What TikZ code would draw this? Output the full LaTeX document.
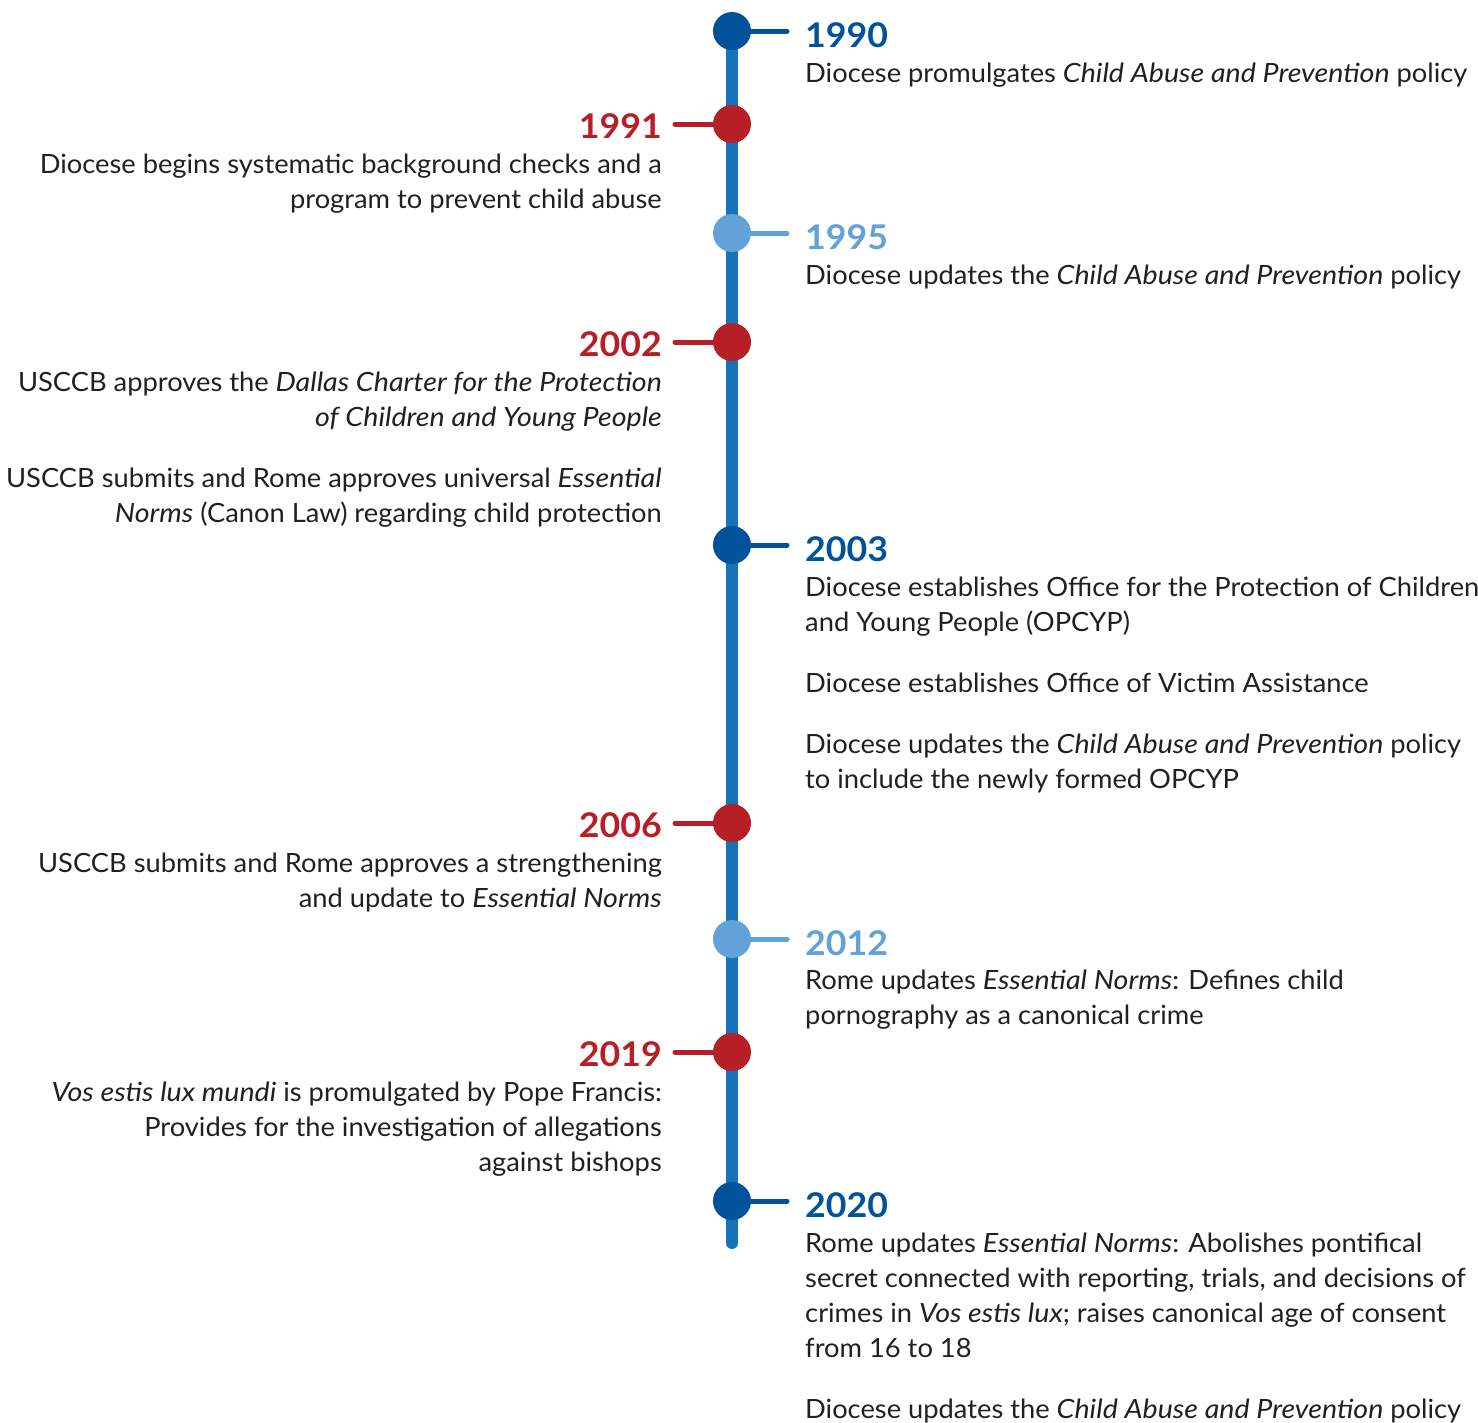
\documentclass[tikz,border=0pt]{standalone}
\usepackage{fontspec}
\setmainfont{Lato}[FakeStretch=1.03,ItalicFeatures={FakeStretch=1.08},BoldFeatures={FakeStretch=1.05}]
\usepackage{xcolor}
\usetikzlibrary{positioning,backgrounds}

\definecolor{darkblue}{RGB}{0,83,155}
\definecolor{lightblue}{RGB}{98,162,216}
\definecolor{darkred}{RGB}{183,31,39}
\definecolor{spineblue}{RGB}{22,115,186}
\definecolor{textgray}{RGB}{35,31,32}

\begin{document}
\begin{tikzpicture}[x=1pt,y=-1pt,
  dot/.style={circle,fill=#1,inner sep=0pt,minimum size=38pt},
  ryear/.style={inner sep=0pt,anchor=base west,text=#1,font=\fontsize{34}{40}\selectfont\bfseries},
  lyear/.style={inner sep=0pt,anchor=base east,text=#1,font=\fontsize{34}{40}\selectfont\bfseries},
  rbody/.style={inner sep=0pt,align=left,anchor=base west,text=textgray,font=\fontsize{26.5}{35}\selectfont},
  lbody/.style={inner sep=0pt,align=right,anchor=base east,text=textgray,font=\fontsize{26.5}{35}\selectfont},
  stub/.style={line width=5pt,line cap=round,draw=#1},
  spine/.style={line width=12pt,line cap=round,draw=spineblue}]
  \useasboundingbox (0,0) rectangle (1478,1422);

  % dots on the spine
  \node[dot=darkblue]  (d1990) at (732,31) {};
  \node[dot=darkred]   (d1991) at (732,124) {};
  \node[dot=lightblue] (d1995) at (732,233) {};
  \node[dot=darkred]   (d2002) at (732,342) {};
  \node[dot=darkblue]  (d2003) at (732,545) {};
  \node[dot=darkred]   (d2006) at (732,823) {};
  \node[dot=lightblue] (d2012) at (732,939) {};
  \node[dot=darkred]   (d2019) at (732,1052) {};
  \node[dot=darkblue]  (d2020) at (732,1201) {};
  \coordinate (bot) at (732,1243);

  % years
  \node[ryear=darkblue]  (y1990) at (805,47) {1990};
  \node[lyear=darkred]   (y1991) at (662,138) {1991};
  \node[ryear=lightblue] (y1995) at (805,249) {1995};
  \node[lyear=darkred]   (y2002) at (662,356) {2002};
  \node[ryear=darkblue]  (y2003) at (805,561) {2003};
  \node[lyear=darkred]   (y2006) at (662,837) {2006};
  \node[ryear=lightblue] (y2012) at (805,955) {2012};
  \node[lyear=darkred]   (y2019) at (662,1066) {2019};
  \node[ryear=darkblue]  (y2020) at (805,1217) {2020};

  % event texts (placed at the baseline of their last line)
  \node[rbody] (t1990) at (805,82) {Diocese promulgates \textit{Child Abuse and Prevention} policy};
  \node[lbody] (t1991) at (662,208) {Diocese begins systematic background checks and a\\program to prevent child abuse};
  \node[rbody] (t1995) at (805,284) {Diocese updates the \textit{Child Abuse and Prevention} policy};
  \node[lbody] (t2002) at (662,522) {USCCB approves the \textit{Dallas Charter for the Protection}\\
    \textit{of Children and Young People}\\[26pt]
    USCCB submits and Rome approves universal \textit{Essential}\\
    \textit{Norms} (Canon Law) regarding child protection};
  \node[rbody] (t2003) at (805,788) {Diocese establishes Office for the Protection of Children\\
    and Young People (OPCYP)\\[26pt]
    Diocese establishes Office of Victim Assistance\\[26pt]
    Diocese updates the \textit{Child Abuse and Prevention} policy\\
    to include the newly formed OPCYP};
  \node[lbody] (t2006) at (662,907) {USCCB submits and Rome approves a strengthening\\
    and update to \textit{Essential Norms}};
  \node[rbody] (t2012) at (805,1024) {Rome updates \textit{Essential Norms}: Defines child\\
    pornography as a canonical crime};
  \node[lbody] (t2019) at (662,1171) {\textit{Vos estis lux mundi} is promulgated by Pope Francis:\\
    Provides for the investigation of allegations\\
    against bishops};
  \node[rbody] (t2020) at (805,1418) {Rome updates \textit{Essential Norms}: Abolishes pontifical\\
    secret connected with reporting, trials, and decisions of\\
    crimes in \textit{Vos estis lux}; raises canonical age of consent\\
    from 16 to 18\\[26pt]
    Diocese updates the \textit{Child Abuse and Prevention} policy};

  \begin{pgfonlayer}{background}
    \draw[spine] (d1990.center) -- (bot);
    \draw[stub=darkblue]  (d1990.center) -- ([xshift=-18pt]d1990 -| y1990.west);
    \draw[stub=darkred]   (d1991.center) -- ([xshift=13pt]d1991 -| y1991.east);
    \draw[stub=lightblue] (d1995.center) -- ([xshift=-18pt]d1995 -| y1995.west);
    \draw[stub=darkred]   (d2002.center) -- ([xshift=13pt]d2002 -| y2002.east);
    \draw[stub=darkblue]  (d2003.center) -- ([xshift=-18pt]d2003 -| y2003.west);
    \draw[stub=darkred]   (d2006.center) -- ([xshift=13pt]d2006 -| y2006.east);
    \draw[stub=lightblue] (d2012.center) -- ([xshift=-18pt]d2012 -| y2012.west);
    \draw[stub=darkred]   (d2019.center) -- ([xshift=13pt]d2019 -| y2019.east);
    \draw[stub=darkblue]  (d2020.center) -- ([xshift=-18pt]d2020 -| y2020.west);
  \end{pgfonlayer}
\end{tikzpicture}
\end{document}
